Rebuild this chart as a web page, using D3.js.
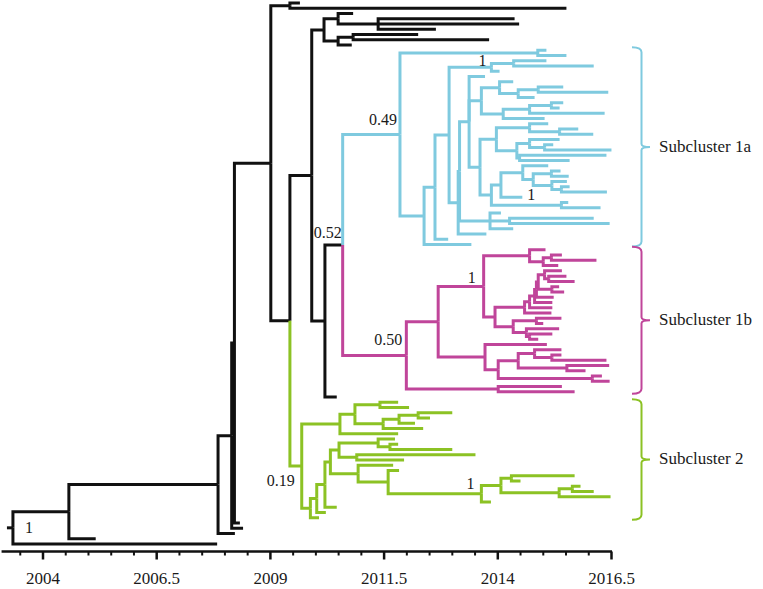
<!DOCTYPE html>
<html><head><meta charset="utf-8">
<script src="https://cdn.jsdelivr.net/npm/d3@7"></script>
<style>
body{margin:0;background:#fff}
svg{display:block}
</style>
</head><body><svg width="763" height="589"></svg>
<script>
// ---- DATA: time-scaled tree. Internal node = [node date, ...children]; a bare number is a tip date.
const topPair = [2009.44, 2009.66, 2015.52];
const earlyClade = [2010.19,
  [2010.50, 2010.83, [2011.38, 2014.38, 2014.48, 2012.65]],
  [2010.50, [2010.83, 2012.26, 2013.82], 2010.80]];

const cyanTop = [2014.89, 2015.08, 2015.52];
const cyanC3 = [2013.87, [2014.36, 2015.08, 2016.12], 2014.05];
const cyanP = [2013.65,
  [2014.05, 2014.35, [2014.46, [2014.90, 2015.45, 2016.44], 2014.82]],
  [2014.13, [2014.71, [2015.19, 2015.45, 2015.37], 2016.36], 2015.04]];
const cyanVtop = [2013.98,
  [2014.71, 2015.12, [2015.37, 2015.78, 2016.11]],
  [2014.43, [2014.71, 2015.37, [2015.04, 2015.23, 2016.51]], [2014.49, 2016.40, 2015.59]]];
const cyanQ = [2014.08,
  [2014.56, 2015.12, [2014.79, [2015.19, 2015.39, 2015.57], [2015.20, 2015.53, [2015.41, 2015.59, 2016.41]]]],
  2014.55];
const cyanR1 = [2013.87, cyanQ, [2015.41, 2015.56, 2016.27]];
const cyanY = [2013.38, 2013.73, cyanP, [2013.62, cyanVtop, cyanR1]];
const cyanZ = [2013.84, 2014.08, [2014.27, 2016.12, 2016.47], 2014.35];
const cyanClade = [2011.86, cyanTop,
  [2012.39, [2012.63, [2012.94, cyanC3, [2013.14, [2013.17, cyanY, cyanZ], 2013.76]], 2012.92], 2013.43]];

const magTop = [2014.71, 2015.06, [2015.01, [2015.19, 2015.42, 2016.18], 2015.34]];
const magComb = [2014.60, [2014.71, [2014.82, [2014.86, [2014.90,
  [2015.04, 2015.42, [2015.13, 2015.52, 2015.70]], [2015.20, 2015.36, 2015.47]],
  2015.24], 2015.21], 2015.21], 2015.19];
const magLow = [2014.35, [2014.86, 2015.41, 2015.01], [2014.64, 2015.36, [2014.71, 2015.21, 2014.90]]];
const magM2 = [2013.70, magTop, [2013.95, magComb, magLow]];
const magM1b = [2013.73, 2015.09, [2014.02,
  [2014.46, [2014.82, 2015.41, [2015.20, 2015.41, 2016.40]], [2015.53, 2016.46, 2015.94]],
  [2016.09, 2016.30, 2016.47]]];
const magentaClade = [2012.00, [2012.70, magM2, magM1b], [2014.02, 2015.42, 2015.70]];

const greenTop = [2010.54,
  [2010.87, [2011.42, 2011.82, 2012.06], [2011.49, [2011.84, [2012.26, 2013.01, 2012.52], 2012.19], 2012.37]],
  2011.82];
const greenG1 = [2013.65, [2014.08, [2014.31, 2015.70, 2014.51], [2015.36, [2015.65, 2015.83, 2016.12], 2016.49]], 2013.86];
const greenMid = [2010.33,
  [2010.52, [2011.38, 2011.75, [2011.64, 2011.82, 2013.01]], [2010.91, 2013.52, 2011.95]],
  [2010.94, 2011.71, [2011.60, 2011.84, greenG1]]];
const greenClade = [2009.70, greenTop, [2009.89, [2010.03, [2010.21, greenMid, 2010.47], 2010.23], 2010.08]];

const coreSplit = [2010.60, cyanClade, magentaClade];
const backbone = [2003.35,
  [2004.58,
    [2007.86,
      [2008.16,
        [2008.22,
          [2009.02, topPair, [2009.44, [2009.92, earlyClade, [2010.21, coreSplit, 2010.47]], greenClade]],
          2008.34],
        2008.41],
      2008.23],
    2005.17],
  2007.84];

const supportNodes  = [backbone, coreSplit, cyanClade, cyanC3, cyanQ, magentaClade, magM2, greenClade, greenG1];
const supportValues = ["1", "0.52", "0.49", "1", "1", "0.50", "1", "0.19", "1"];

const subclusterNames  = ["Subcluster 1a", "Subcluster 1b", "Subcluster 2"];
const subclusterClades = [cyanClade, magentaClade, greenClade];
const subclusterColors = ["#7fcadf", "#c0459a", "#8cc224"];

const majorTicks = [2004, 2006.5, 2009, 2011.5, 2014, 2016.5];
const minorTicks = d3.range(2003.5, 2016.51, 0.5);

// ---- LAYOUT
const FONT = '"Liberation Serif", "Times New Roman", serif';
const svg = d3.select("svg");
const x = d3.scaleLinear().domain([2004, 2016.5]).range([42.5, 611]);
function build(a){
  if (typeof a === "number") return {date:a, src:null};
  return {date:a[0], src:a, children:a.slice(1).map(build)};
}
const root = d3.hierarchy(build(backbone));
const leaves = root.leaves();
const yLeaf = d3.scaleLinear().domain([0, leaves.length - 1]).range([3, 544]);
leaves.forEach((l, i) => l.y = yLeaf(i));
root.eachAfter(n => { if (n.children) n.y = (n.children[0].y + n.children[n.children.length - 1].y) / 2; });
root.each(n => n.x = x(n.data.date));

const black = "#111";
root.descendants().forEach(n => {
  const k = subclusterClades.indexOf(n.data.src);
  n.color = k >= 0 ? subclusterColors[k] : (n.parent ? n.parent.color : black);
});

function label(sel){ return sel.style("font-family", FONT).style("fill", "#1a1a1a"); }

// branches
const links = root.links().sort((a, b) => (a.target.color === black) - (b.target.color === black)).reverse();
svg.append("g").attr("fill", "none").attr("stroke-width", 3).attr("stroke-linejoin", "miter")
  .selectAll("path").data(links).join("path")
  .attr("stroke", d => d.target.color)
  .attr("d", d => `M${d.source.x},${d.source.y}V${d.target.y}H${d.target.x}`);
svg.append("path").attr("stroke", black).attr("stroke-width", 3)
  .attr("d", `M${root.x - 6},${root.y}H${root.x}`);

// support labels
const nodeBySrc = new Map(root.descendants().filter(n => n.data.src).map(n => [n.data.src, n]));
const place = [
  n => [n.x + 12, n.y + 5, "start"],
  n => [n.x - 1, n.y - 6.5, "end"],
  n => [n.x - 3, n.y - 9, "end"],
  n => [n.x - 5, n.y - 1.5, "end"],
  n => { const c = n.children[n.children.length - 1]; return [c.x + 5, c.y + 2.5, "start"]; },
  n => [n.x - 4, n.y - 10, "end"],
  n => [n.x - 8, n.y - 3, "end"],
  n => [n.x - 7, n.y + 20, "end"],
  n => [n.x - 7, n.y - 5, "end"]
];
supportNodes.forEach((src, i) => {
  const p = place[i](nodeBySrc.get(src));
  svg.append("text").attr("x", p[0]).attr("y", p[1]).attr("text-anchor", p[2])
    .style("font-size", "16px").call(label).text(supportValues[i]);
});

// subcluster brackets
subclusterClades.forEach((src, i) => {
  const lv = nodeBySrc.get(src).leaves();
  const top = d3.min(lv, l => l.y) - 3, bot = d3.max(lv, l => l.y) + 2, mid = (top + bot) / 2;
  const xv = 641.5, x0 = 632, xp = 650;
  svg.append("path").attr("fill", "none").attr("stroke", subclusterColors[i]).attr("stroke-width", 2)
    .attr("d", `M${x0},${top}Q${xv},${top} ${xv},${top + 5}V${mid - 3}Q${xv},${mid} ${xp},${mid}Q${xv},${mid} ${xv},${mid + 3}V${bot - 5}Q${xv},${bot} ${x0},${bot}`);
  svg.append("text").attr("x", 659).attr("y", mid + 5).style("font-size", "17px").call(label).text(subclusterNames[i]);
});

// axis
const axisY = 551.5;
const gA = svg.append("g").attr("transform", `translate(0,${axisY})`);
gA.append("line").attr("x1", x(2003.1)).attr("x2", x(2016.5) + 1).attr("stroke", black).attr("stroke-width", 2.5);
gA.append("g").call(d3.axisBottom(x).tickValues(minorTicks.filter(v => !majorTicks.includes(v))).tickSize(4).tickFormat(""))
  .call(g => g.select(".domain").remove())
  .call(g => g.selectAll("line").attr("stroke", black).attr("stroke-width", 2));
gA.append("g").call(d3.axisBottom(x).tickValues(majorTicks).tickSize(8).tickFormat(d => String(d)))
  .attr("font-family", null)
  .call(g => g.select(".domain").remove())
  .call(g => g.selectAll("line").attr("stroke", black).attr("stroke-width", 2.5))
  .call(g => g.selectAll("text").attr("y", 32.5).attr("dy", 0).style("font-size", "17px").call(label));
</script>
</body></html>
